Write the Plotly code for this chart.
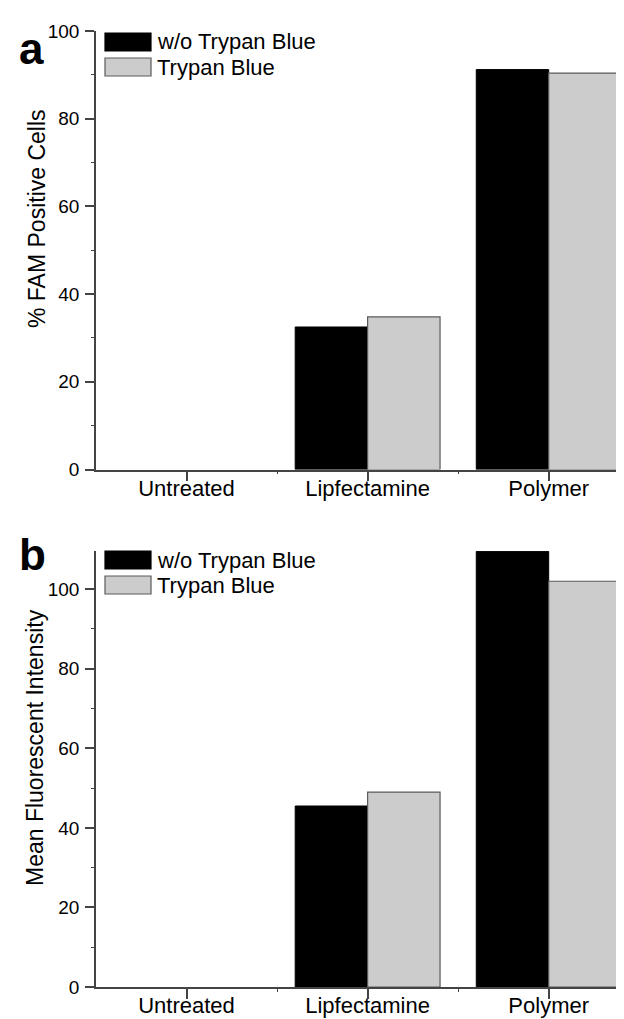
import plotly.graph_objects as go

# ---------------- data ----------------
categories = ["Untreated", "Lipfectamine", "Polymer"]
series_names = ["w/o Trypan Blue", "Trypan Blue"]
fam_without = [0, 32.5, 91.2]     # panel a, black
fam_with = [0, 34.8, 90.4]        # panel a, grey
mfi_without = [0, 45.5, 109.5]    # panel b, black
mfi_with = [0, 49.0, 102.0]       # panel b, grey
y_ticks = [0, 20, 40, 60, 80, 100]
title_a = "% FAM Positive Cells"
title_b = "Mean Fluorescent Intensity"

# ---------------- layout helpers ----------------
W, H = 624, 1019
ML, MR, MT, MB = 88, 0, 23, 40
PW, PH = W - ML - MR, H - MT - MB


def px(x):
    return (x - ML) / PW


def py(y):
    return (H - MB - y) / PH


FONT = "Liberation Sans, Arial, Helvetica, sans-serif"
AX = "#444444"
BLACK = "#000000"
GREY = "#cccccc"
GREY_LINE = "#5a5a5a"

xpos = list(range(len(categories)))


def outline(values, w):
    return [w if v > 0 else 0 for v in values]


fig = go.Figure()
fig.add_trace(go.Bar(x=xpos, y=fam_without, name=series_names[0],
                     marker=dict(color=BLACK, line=dict(color=BLACK, width=outline(fam_without, 1))),
                     xaxis="x", yaxis="y", showlegend=False))
fig.add_trace(go.Bar(x=xpos, y=fam_with, name=series_names[1],
                     marker=dict(color=GREY, line=dict(color=GREY_LINE, width=outline(fam_with, 1.2))),
                     xaxis="x", yaxis="y", showlegend=False))
fig.add_trace(go.Bar(x=xpos, y=mfi_without, name=series_names[0],
                     marker=dict(color=BLACK, line=dict(color=BLACK, width=outline(mfi_without, 1))),
                     xaxis="x2", yaxis="y2", showlegend=False))
fig.add_trace(go.Bar(x=xpos, y=mfi_with, name=series_names[1],
                     marker=dict(color=GREY, line=dict(color=GREY_LINE, width=outline(mfi_with, 1.2))),
                     xaxis="x2", yaxis="y2", showlegend=False))

xcommon = dict(
    range=[-0.5, 2.46], tickmode="array", tickvals=xpos, ticktext=categories,
    ticks="outside", ticklen=10, tickwidth=1.5, tickcolor=AX,
    showline=True, linecolor=AX, linewidth=1.5, showgrid=False, zeroline=False,
    tickfont=dict(family=FONT, size=22, color="black"),
    ticklabelstandoff=-12,
    minor=dict(tickmode="array", tickvals=[0.5, 1.5], ticks="outside", ticklen=3, tickcolor=AX, tickwidth=1.2),
    automargin=False, fixedrange=True,
)
ycommon = dict(
    tickmode="array", tickvals=y_ticks,
    ticks="outside", ticklen=9, tickwidth=1.5, tickcolor=AX,
    showline=True, linecolor=AX, linewidth=1.5, showgrid=False, zeroline=False,
    tickfont=dict(family=FONT, size=19, color="black"),
    ticklabelstandoff=2,
    minor=dict(dtick=10, tick0=0, ticks="outside", ticklen=3, tickcolor=AX, tickwidth=1.2),
    automargin=False, fixedrange=True,
)

fig.update_layout(
    width=W, height=H,
    margin=dict(l=ML, r=MR, t=MT, b=MB, pad=0, autoexpand=False),
    paper_bgcolor="white", plot_bgcolor="white",
    barmode="group", bargap=0.2, bargroupgap=0,
    xaxis=dict(xcommon, anchor="y", domain=[0, 1]),
    yaxis=dict(ycommon, anchor="x", domain=[py(461.5), 1.0], range=[0, 100]),
    xaxis2=dict(xcommon, anchor="y2", domain=[0, 1]),
    yaxis2=dict(ycommon, anchor="x2", domain=[0, py(543)], range=[0, 109.6]),
    font=dict(family=FONT, color="black"),
)

# axis titles
fig.add_annotation(text=title_a, x=px(29), y=py(211), xref="paper", yref="paper", textangle=-90,
                   showarrow=False, xanchor="center", yanchor="middle", font=dict(family=FONT, size=23, color="black"))
fig.add_annotation(text=title_b, x=px(27), y=py(740), xref="paper", yref="paper", textangle=-90,
                   showarrow=False, xanchor="center", yanchor="middle", font=dict(family=FONT, size=23, color="black"))

# panel letters
fig.add_annotation(text="<b>a</b>", x=px(23), y=py(40), xref="paper", yref="paper", showarrow=False,
                   xanchor="center", yanchor="middle", font=dict(family=FONT, size=44, color="black"))
fig.add_annotation(text="<b>b</b>", x=px(24), y=py(546), xref="paper", yref="paper", showarrow=False,
                   xanchor="center", yanchor="middle", font=dict(family=FONT, size=44, color="black"))


# manual legends (large swatches as in the original)
def legend(top):
    items = [(series_names[0], BLACK, BLACK, top + 2), (series_names[1], GREY, GREY_LINE, top + 27)]
    for name, fill, line, y0 in items:
        fig.add_shape(type="rect", xref="paper", yref="paper",
                      x0=px(97), x1=px(143), y0=py(y0), y1=py(y0 + 18),
                      fillcolor=fill, line=dict(color=line, width=1.2))
        fig.add_annotation(text=name, x=px(147), y=py(y0 + 9), xref="paper", yref="paper", showarrow=False,
                           xanchor="left", yanchor="middle", font=dict(family=FONT, size=22, color="black"))


legend(23)
legend(541)

fig.write_html("out.html")
